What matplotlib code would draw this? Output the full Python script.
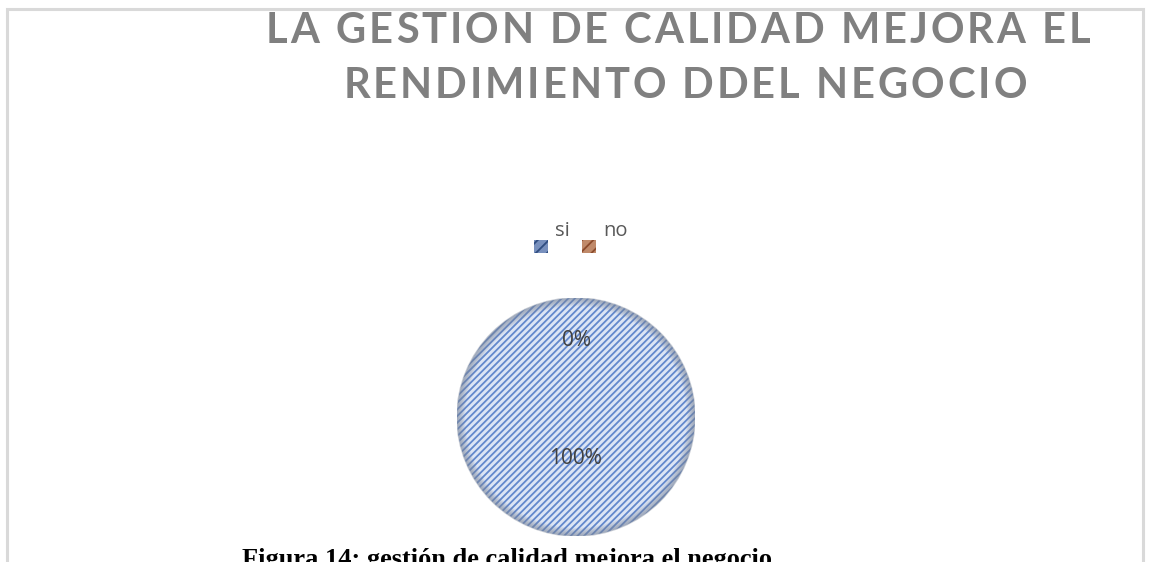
import matplotlib
matplotlib.use("Agg")
import matplotlib.pyplot as plt
from matplotlib.patches import Rectangle, Circle
from matplotlib.font_manager import FontProperties, findfont
from matplotlib.ft2font import FT2Font

# chart data
categories = ["si", "no"]
values = [100, 0]
title_lines = ["LA GESTION DE CALIDAD MEJORA EL", "RENDIMIENTO DDEL NEGOCIO"]
caption = "Figura 14: gestión de calidad mejora el negocio"

W, H = 1151, 562
fig = plt.figure(figsize=(W / 100, H / 100), dpi=100)
plt.rcParams['hatch.linewidth'] = 1.3

def fx(px):
    return px / W

def fy(py):
    return 1 - py / H

# chart area border (bottom runs past the image edge)
fig.patches.append(Rectangle((fx(7.5), fy(600)), fx(1143) - fx(7.5), fy(8.5) - fy(600),
                             transform=fig.transFigure, fill=False,
                             edgecolor='#d9d9d9', linewidth=2.2))

# title, drawn letter by letter to get the wide Excel tracking
title_size = 30
title_prop = FontProperties(family='Lato', weight='bold', size=title_size)
ft = FT2Font(findfont(title_prop))
ft.set_size(title_size, 100)

def advances(s):
    return [ft.load_char(ord(c)).linearHoriAdvance / 65536 for c in s]

adv0 = advances(title_lines[0])
track = (824 - sum(adv0)) / (len(title_lines[0]) - 1)

def spaced_text(s, xc, ybase):
    adv = advances(s)
    total = sum(adv) + track * (len(s) - 1)
    x = xc - total / 2
    for c, a in zip(s, adv):
        if c != ' ':
            fig.text(fx(x + a / 2), fy(ybase), c, ha='center', va='baseline',
                     fontproperties=title_prop, color='#808080')
        x += a + track

spaced_text(title_lines[0], 678, 43)
spaced_text(title_lines[1], 685, 98)

# legend (manual, matching the odd offset layout)
leg_colors = [('#2f4d80', '#7890bd'), ('#8c4b2c', '#c08a6a')]
leg_x = [534, 582]
for x0, lab, (dark, light) in zip(leg_x, categories, leg_colors):
    fig.patches.append(Rectangle((fx(x0), fy(253)), fx(14), 13 / H,
                                 transform=fig.transFigure, facecolor=light,
                                 edgecolor=dark, linewidth=0, hatch='///'))
    fig.text(fx(x0 + 21), fy(236), lab, ha='left', va='baseline',
             family='Open Sans', fontsize=14.5, color='#595959')

# pie
cx, cy, r = 576, 417, 119
ax = fig.add_axes([fx(cx - r), 1 - (cy + r) / H, 2 * r / W, 2 * r / H])
wedges, texts, autotexts = ax.pie(values, startangle=90, counterclock=False,
                                  colors=['#dce5f5', '#dce5f5'], radius=1,
                                  autopct='%1.0f%%', pctdistance=0.64,
                                  wedgeprops=dict(edgecolor='#6288cc', linewidth=0, hatch='/////'),
                                  textprops=dict(family='Open Sans', fontsize=15, color='#404040'))
# Excel puts the 100% label closer to the centre
x, y = autotexts[0].get_position()
autotexts[0].set_position((x * 0.35 / 0.64, y * 0.35 / 0.64))

# soft inner shadow at the rim
for i in range(10):
    ax.add_patch(Circle((0, 0), 1 - i * 0.007, fill=False, edgecolor='#7a8598',
                        linewidth=1.2, alpha=0.4 - i * 0.038))
ax.set_xlim(-1, 1)
ax.set_ylim(-1, 1)
ax.set_aspect('equal')
ax.axis('off')

# figure caption, cut off by the bottom edge as in the source page
fig.text(fx(507), fy(566), caption, ha='center', va='baseline',
         family='Liberation Serif', fontweight='bold', fontsize=19, color='black')

fig.savefig('out.png', dpi=100)
